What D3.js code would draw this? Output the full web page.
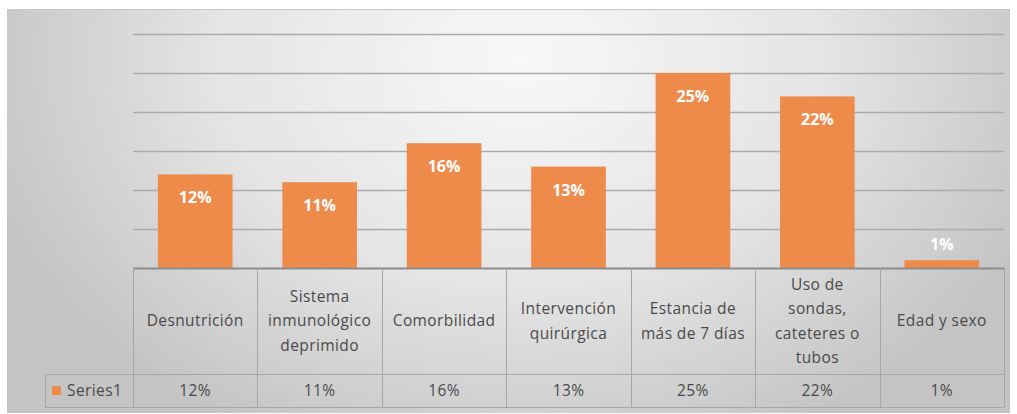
<!DOCTYPE html>
<html>
<head>
<meta charset="utf-8">
<script src="https://cdn.jsdelivr.net/npm/d3@7"></script>
<style>
  body { margin: 0; background: #fff; }
  svg { display: block; font-family: "Open Sans", sans-serif; }
</style>
</head>
<body>
<svg width="1017" height="414"></svg>
<script>
// data
var categories = [
  ["Desnutrición"],
  ["Sistema", "inmunológico", "deprimido"],
  ["Comorbilidad"],
  ["Intervención", "quirúrgica"],
  ["Estancia de", "más de 7 días"],
  ["Uso de", "sondas,", "cateteres o", "tubos"],
  ["Edad y sexo"]
];
var values = [12, 11, 16, 13, 25, 22, 1];
var seriesName = "Series1";
var yTicks = [0, 5, 10, 15, 20, 25, 30];

var svg = d3.select("svg"),
    plot = {left: 133, right: 1004, top: 34, bottom: 268},
    headerBottom = 374, tableBottom = 407,
    textColor = "#4a4a4a";

// background
var defs = svg.append("defs");
var grad = defs.append("radialGradient")
    .attr("id", "bg")
    .attr("gradientUnits", "userSpaceOnUse")
    .attr("cx", 520).attr("cy", 60).attr("r", 560)
    .attr("gradientTransform", "translate(520,60) scale(1,0.75) translate(-520,-60)");
grad.append("stop").attr("offset", "0%").attr("stop-color", "#f8f8f8");
grad.append("stop").attr("offset", "55%").attr("stop-color", "#e4e4e4");
grad.append("stop").attr("offset", "100%").attr("stop-color", "#c4c4c4");

svg.append("rect")
    .attr("x", 7).attr("y", 9)
    .attr("width", 1003).attr("height", 404)
    .attr("fill", "url(#bg)");
svg.append("line")
    .attr("x1", 7).attr("x2", 1010).attr("y1", 9.5).attr("y2", 9.5)
    .attr("stroke", "#c8c8c8");

// scales
var x = d3.scaleBand()
    .domain(d3.range(values.length))
    .range([plot.left, plot.right])
    .paddingInner(0.4).paddingOuter(0.2);
var xCell = d3.scaleBand()
    .domain(d3.range(values.length))
    .range([plot.left, plot.right]);
var y = d3.scaleLinear().domain([0, 30]).range([plot.bottom, plot.top]);

// gridlines
svg.append("g")
  .selectAll("line")
  .data(yTicks.slice(1))
  .enter().append("line")
    .attr("x1", plot.left).attr("x2", plot.right)
    .attr("y1", function(d) { return Math.round(y(d)) + 0.5; })
    .attr("y2", function(d) { return Math.round(y(d)) + 0.5; })
    .attr("stroke", "#ababab")
    .attr("stroke-width", 1.4);

// bars
svg.append("g")
  .selectAll("rect")
  .data(values)
  .enter().append("rect")
    .attr("x", function(d, i) { return x(i); })
    .attr("y", function(d) { return y(d); })
    .attr("width", x.bandwidth())
    .attr("height", function(d) { return y(0) - y(d); })
    .attr("fill", "#ee8a4a");

// bar labels
svg.append("g")
  .selectAll("text")
  .data(values)
  .enter().append("text")
    .attr("x", function(d, i) { return x(i) + x.bandwidth() / 2; })
    .attr("y", function(d) { return d < 3 ? y(d) - 10 : y(d) + 29; })
    .attr("text-anchor", "middle")
    .attr("fill", "#fff")
    .style("font-size", "16px")
    .style("font-weight", "bold")
    .text(function(d) { return d + "%"; });

// data table
var tbl = svg.append("g")
    .attr("fill", "none")
    .attr("stroke", "#a6a6a6");
tbl.append("line")
    .attr("x1", plot.left).attr("x2", plot.right)
    .attr("y1", plot.bottom + 0.5).attr("y2", plot.bottom + 0.5)
    .attr("stroke", "#8c8c8c").attr("stroke-width", 2);
tbl.append("line")
    .attr("x1", 45).attr("x2", plot.right)
    .attr("y1", headerBottom + 0.5).attr("y2", headerBottom + 0.5);
tbl.append("line")
    .attr("x1", 45).attr("x2", plot.right)
    .attr("y1", tableBottom + 0.5).attr("y2", tableBottom + 0.5);
tbl.append("line")
    .attr("x1", 45.5).attr("x2", 45.5)
    .attr("y1", headerBottom).attr("y2", tableBottom);
tbl.selectAll(".div")
  .data(d3.range(values.length + 1))
  .enter().append("line")
    .attr("class", "div")
    .attr("x1", function(i) { return Math.round(plot.left + i * xCell.bandwidth()) + 0.5; })
    .attr("x2", function(i) { return Math.round(plot.left + i * xCell.bandwidth()) + 0.5; })
    .attr("y1", plot.bottom)
    .attr("y2", tableBottom);

// category labels
var lineH = 24.5, headerMid = (plot.bottom + headerBottom) / 2;
var cat = svg.append("g")
  .selectAll("text")
  .data(categories)
  .enter().append("text")
    .attr("text-anchor", "middle")
    .attr("fill", textColor)
    .style("font-size", "15.5px")
    .style("letter-spacing", "0.4px");
cat.selectAll("tspan")
  .data(function(d, i) { return d.map(function(s, k) { return {s: s, k: k, n: d.length, i: i}; }); })
  .enter().append("tspan")
    .attr("x", function(d) { return xCell(d.i) + xCell.bandwidth() / 2; })
    .attr("y", function(d) { return headerMid + (d.k - (d.n - 1) / 2) * lineH; })
    .attr("dy", "0.35em")
    .text(function(d) { return d.s; });

// value row
var rowMid = (headerBottom + tableBottom) / 2;
svg.append("g")
  .selectAll("text")
  .data(values)
  .enter().append("text")
    .attr("x", function(d, i) { return xCell(i) + xCell.bandwidth() / 2; })
    .attr("y", rowMid)
    .attr("dy", "0.35em")
    .attr("text-anchor", "middle")
    .attr("fill", textColor)
    .style("font-size", "15.5px")
    .style("letter-spacing", "0.4px")
    .text(function(d) { return d + "%"; });

// legend key
svg.append("rect")
    .attr("x", 52).attr("y", 386)
    .attr("width", 9).attr("height", 9)
    .attr("fill", "#ee8a4a");
svg.append("text")
    .attr("x", 67).attr("y", rowMid)
    .attr("dy", "0.35em")
    .attr("fill", textColor)
    .style("font-size", "15.5px")
    .style("letter-spacing", "0.4px")
    .text(seriesName);
</script>
</body>
</html>
